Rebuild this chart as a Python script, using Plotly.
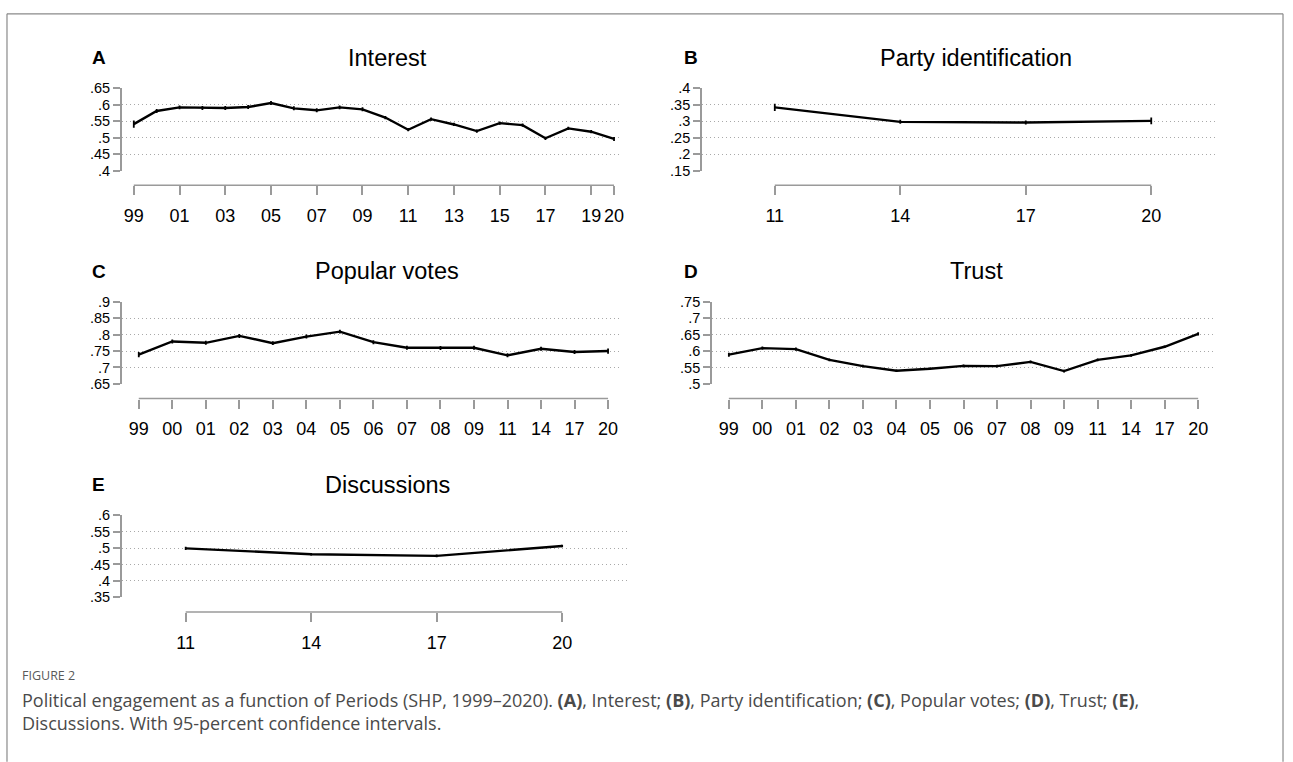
import plotly.graph_objects as go

W, H = 1293, 762

# ---------------- data ----------------
interest_years = list(range(1999, 2021))
interest_vals = [0.541, 0.581, 0.592, 0.590, 0.590, 0.593, 0.605, 0.589, 0.583, 0.592, 0.586,
                 0.561, 0.524, 0.556, 0.540, 0.520, 0.544, 0.538, 0.498, 0.528, 0.518, 0.496]
interest_ci = [0.011, 0.006, 0.006, 0.006, 0.006, 0.006, 0.006, 0.006, 0.006, 0.006, 0.006,
               0.005, 0.005, 0.005, 0.005, 0.005, 0.005, 0.005, 0.005, 0.005, 0.005, 0.006]
interest_ticks = [1999, 2001, 2003, 2005, 2007, 2009, 2011, 2013, 2015, 2017, 2019, 2020]
interest_ticktext = ["99", "01", "03", "05", "07", "09", "11", "13", "15", "17", "19", "20"]

party_years = [2011, 2014, 2017, 2020]
party_vals = [0.342, 0.298, 0.296, 0.301]
party_ci = [0.011, 0.006, 0.006, 0.010]

votes_cats = ["99", "00", "01", "02", "03", "04", "05", "06", "07", "08", "09", "11", "14", "17", "20"]
votes_vals = [0.739, 0.779, 0.775, 0.796, 0.774, 0.794, 0.809, 0.777, 0.760, 0.759, 0.760,
              0.737, 0.757, 0.747, 0.750]
votes_ci = [0.008, 0.006, 0.006, 0.006, 0.006, 0.006, 0.006, 0.006, 0.006, 0.006, 0.006,
            0.006, 0.006, 0.006, 0.008]

trust_cats = ["99", "00", "01", "02", "03", "04", "05", "06", "07", "08", "09", "11", "14", "17", "20"]
trust_vals = [0.589, 0.609, 0.606, 0.573, 0.554, 0.540, 0.546, 0.555, 0.554, 0.567, 0.539,
              0.573, 0.587, 0.613, 0.652]
trust_ci = [0.006, 0.005, 0.005, 0.004, 0.004, 0.004, 0.004, 0.004, 0.004, 0.004, 0.004,
            0.004, 0.004, 0.004, 0.005]

disc_years = [2011, 2014, 2017, 2020]
disc_vals = [0.499, 0.481, 0.476, 0.506]
disc_ci = [0.005, 0.004, 0.004, 0.004]

# ---------------- layout helpers ----------------
FONT = "Liberation Sans, Arial, sans-serif"
AXIS_COLOR = "#9a9a9a"
GRID_COLOR = "#a9a9a9"


def px(x):
    return x / W


def py(y):
    return 1 - y / H


def yfmt(v):
    s = f"{v:.2f}".rstrip("0")
    return s[1:] if s.startswith("0") else s


fig = go.Figure()
layout = dict(
    width=W, height=H, margin=dict(l=0, r=0, t=0, b=0),
    paper_bgcolor="white", plot_bgcolor="white", showlegend=False,
    font=dict(family=FONT, color="black"),
)
shapes = []
annotations = []

votes_pos = list(range(len(votes_cats)))
trust_pos = list(range(len(trust_cats)))

panels = [
    dict(letter="A", title="Interest", x=interest_years, y=interest_vals, ci=interest_ci,
         xdom=(122, 623), ydom=(82, 166), xline=181, xrange=[1998.476, 2020.35], yrange=[0.4, 0.65],
         tickvals=interest_ticks, ticktext=interest_ticktext, lx=90, tcx=388, ty=51),
    dict(letter="B", title="Party identification", x=party_years, y=party_vals, ci=party_ci,
         xdom=(703, 1217), ydom=(82, 166), xline=181, xrange=[2009.258, 2021.527], yrange=[0.15, 0.4],
         tickvals=party_years, ticktext=[str(v)[2:] for v in party_years], lx=683, tcx=978, ty=51),
    dict(letter="C", title="Popular votes", x=votes_pos, y=votes_vals, ci=votes_ci,
         xdom=(122, 623), ydom=(300, 384), xline=399, xrange=[-0.506, 14.417], yrange=[0.65, 0.9],
         tickvals=votes_pos, ticktext=votes_cats, lx=90, tcx=388, ty=269),
    dict(letter="D", title="Trust", x=trust_pos, y=trust_vals, ci=trust_ci,
         xdom=(713, 1217), ydom=(300, 384), xline=399, xrange=[-0.506, 14.506], yrange=[0.5, 0.75],
         tickvals=trust_pos, ticktext=trust_cats, lx=683, tcx=978, ty=269),
    dict(letter="E", title="Discussions", x=disc_years, y=disc_vals, ci=disc_ci,
         xdom=(122, 628), ydom=(518, 602), xline=617, xrange=[2009.473, 2021.551], yrange=[0.35, 0.6],
         tickvals=disc_years, ticktext=[str(v)[2:] for v in disc_years], lx=90, tcx=388, ty=487),
]

for i, p in enumerate(panels):
    n = "" if i == 0 else str(i + 1)
    xa, ya = "x" + n, "y" + n
    fig.add_trace(go.Scatter(
        x=p["x"], y=p["y"], mode="lines", xaxis=xa, yaxis=ya,
        line=dict(color="black", width=2.4),
        error_y=dict(type="data", array=p["ci"], visible=True, color="black", thickness=1.8, width=0),
        hoverinfo="y",
    ))
    lo, hi = p["yrange"]
    yt = [round(lo + 0.05 * k, 2) for k in range(6)]
    layout["xaxis" + n] = dict(
        domain=[px(p["xdom"][0]), px(p["xdom"][1])], range=p["xrange"],
        anchor="free", position=py(p["xline"]), showline=False, showgrid=False, zeroline=False,
        tickmode="array", tickvals=p["tickvals"], ticktext=p["ticktext"],
        ticks="outside", ticklen=9, tickwidth=1.5, tickcolor=AXIS_COLOR,
        tickfont=dict(size=18, family=FONT, color="black"), ticklabelstandoff=5,
        fixedrange=True,
    )
    layout["yaxis" + n] = dict(
        domain=[py(p["ydom"][1]), py(p["ydom"][0])], range=[lo, hi], anchor=xa,
        showline=True, linecolor=AXIS_COLOR, linewidth=1.5, mirror=False,
        showgrid=True, gridcolor=GRID_COLOR, gridwidth=1, griddash="1px,3px", zeroline=False,
        tickmode="array", tickvals=yt, ticktext=[yfmt(v) for v in yt],
        ticks="outside", ticklen=7, tickwidth=1.5, tickcolor=AXIS_COLOR,
        tickfont=dict(size=14.5, family=FONT, color="black"), ticklabelstandoff=0,
        fixedrange=True,
    )
    # x axis line spanning the tick range (Stata style)
    shapes.append(dict(type="line", xref=xa, yref="paper",
                       x0=p["x"][0], x1=p["x"][-1], y0=py(p["xline"]), y1=py(p["xline"]),
                       line=dict(color=AXIS_COLOR, width=1.5)))
    annotations.append(dict(text=p["letter"], xref="paper", yref="paper", x=px(p["lx"]), y=py(p["ty"]),
                            xanchor="left", yanchor="middle", showarrow=False,
                            font=dict(size=19, family=FONT, color="black", weight="bold")))
    annotations.append(dict(text=p["title"], xref="paper", yref="paper", x=px(p["tcx"]), y=py(p["ty"]),
                            xanchor="center", yanchor="middle", showarrow=False,
                            font=dict(size=23.5, family=FONT, color="black")))

# frame
for (x0, y0, x1, y1) in [(7, 6, 1285, 6), (7, 6, 7, 770), (1285, 6, 1285, 770)]:
    shapes.append(dict(type="line", xref="paper", yref="paper", x0=px(x0), y0=py(y0), x1=px(x1), y1=py(y1),
                       line=dict(color="#8a8a8a", width=1.2)))

CAP_FONT = "Open Sans, Noto Sans, sans-serif"
annotations.append(dict(text="FIGURE 2", xref="paper", yref="paper", x=px(20), y=py(682),
                        xanchor="left", yanchor="middle", showarrow=False,
                        font=dict(size=12.5, family=CAP_FONT, color="#5a5a5a")))
annotations.append(dict(
    text=("Political engagement as a function of Periods (SHP, 1999–2020). <b>(A)</b>, Interest; "
          "<b>(B)</b>, Party identification; <b>(C)</b>, Popular votes; <b>(D)</b>, Trust; <b>(E)</b>,"
          "<br>Discussions. With 95-percent confidence intervals."),
    xref="paper", yref="paper", x=px(20), y=py(693), xanchor="left", yanchor="top", align="left",
    showarrow=False, font=dict(size=18, family=CAP_FONT, color="#4a4a4a")))

layout["shapes"] = shapes
layout["annotations"] = annotations
fig.update_layout(**layout)
fig.write_html("out.html", config={"displayModeBar": False},
               post_script="document.body.style.margin='0';document.body.style.overflow='hidden';")
